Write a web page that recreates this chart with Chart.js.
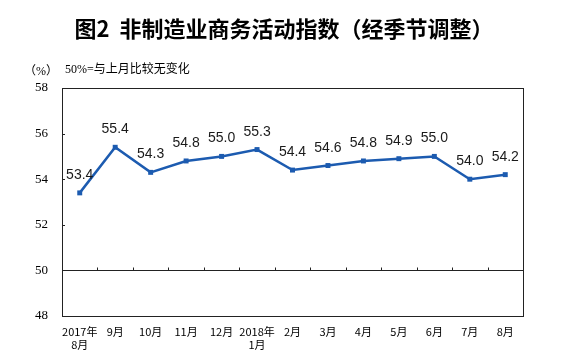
<!DOCTYPE html>
<html>
<head>
<meta charset="utf-8">
<script src="https://cdn.jsdelivr.net/npm/chart.js@4"></script>
<style>
  body { margin: 0; background: #fff; }
  #wrap { width: 565px; height: 362px; }
</style>
</head>
<body>
<div id="wrap"><canvas id="myLineChart" width="565" height="362"></canvas></div>
<script>
// data
const months = [['2017年', '8月'], '9月', '10月', '11月', '12月', ['2018年', '1月'], '2月', '3月', '4月', '5月', '6月', '7月', '8月'];
const indexValues = [53.4, 55.4, 54.3, 54.8, 55.0, 55.3, 54.4, 54.6, 54.8, 54.9, 55.0, 54.0, 54.2];
const yTicks = [48, 50, 52, 54, 56, 58];
const baseLine = 50;

const titleText = '图2  非制造业商务活动指数（经季节调整）';
const unitText = '（%）';
const noteText = '50%=与上月比较无变化';

const lineColor = '#1c5bb0';
const frameColor = '#222';

// title, frame, 50 line, inward ticks, value labels, notes
const decorPlugin = {
  id: 'decor',
  afterDatasetsDraw(chart) {
    const ctx = chart.ctx;
    const area = chart.chartArea;
    const xs = chart.scales.x;
    const ys = chart.scales.y;

    ctx.save();
    ctx.strokeStyle = frameColor;
    ctx.lineWidth = 1;
    ctx.strokeRect(Math.round(area.left) + 0.5, Math.round(area.top) + 0.5,
      Math.round(area.right - area.left), Math.round(area.bottom - area.top));

    // small ticks on the left edge
    ctx.beginPath();
    yTicks.forEach(function (v) {
      const y = Math.round(ys.getPixelForValue(v)) + 0.5;
      ctx.moveTo(area.left, y);
      ctx.lineTo(area.left + 3, y);
    });
    ctx.stroke();

    // 50 line with category boundary ticks
    const y50 = Math.round(ys.getPixelForValue(baseLine)) + 0.5;
    ctx.beginPath();
    ctx.moveTo(area.left, y50);
    ctx.lineTo(area.right, y50);
    for (let i = 1; i < months.length; i++) {
      const bx = Math.round((xs.getPixelForValue(i - 1) + xs.getPixelForValue(i)) / 2) + 0.5;
      ctx.moveTo(bx, y50);
      ctx.lineTo(bx, y50 - 3);
    }
    ctx.stroke();

    // value labels
    const meta = chart.getDatasetMeta(0);
    ctx.fillStyle = '#1a1a1a';
    ctx.font = '14px "Liberation Sans", Arial, sans-serif';
    ctx.textAlign = 'center';
    ctx.textBaseline = 'alphabetic';
    meta.data.forEach(function (pt, i) {
      ctx.fillText(indexValues[i].toFixed(1), pt.x, pt.y - 14);
    });

    // title
    ctx.fillStyle = '#000';
    ctx.font = 'bold 22px "Noto Sans CJK SC", sans-serif';
    ctx.textAlign = 'center';
    ctx.textBaseline = 'middle';
    ctx.fillText(titleText, 284, 29);

    // unit and note
    ctx.font = '12px "Liberation Serif", "Noto Sans CJK SC", serif';
    ctx.fillText(unitText, 41, 72);
    ctx.textAlign = 'left';
    ctx.fillText(noteText, 65, 70);
    ctx.restore();
  }
};

function setupLineChart() {
  var canvas = document.getElementById('myLineChart');
  var ctx = canvas.getContext('2d');

  return new Chart(ctx, {
    type: 'line',
    data: {
      labels: months,
      datasets: [{
        data: indexValues,
        borderColor: lineColor,
        backgroundColor: lineColor,
        borderWidth: 2.5,
        pointStyle: 'rect',
        pointRadius: 3.5,
        pointBorderWidth: 0,
        tension: 0
      }]
    },
    options: {
      responsive: false,
      animation: false,
      layout: { padding: { left: 0, right: 42, top: 88, bottom: 0 } },
      plugins: {
        legend: { display: false },
        tooltip: { enabled: false },
        title: { display: false }
      },
      scales: {
        x: {
          offset: true,
          grid: { display: false, drawTicks: false },
          border: { display: false },
          ticks: {
            color: '#000',
            padding: 9,
            maxRotation: 0,
            autoSkip: false,
            font: { family: '"Noto Sans CJK SC", sans-serif', size: 11, lineHeight: 1.2 }
          },
          afterFit: function (scale) { scale.height = 46; }
        },
        y: {
          min: 48,
          max: 58,
          afterBuildTicks: function (scale) {
            scale.ticks = yTicks.map(function (v) { return { value: v }; });
          },
          grid: { display: false, drawTicks: false },
          border: { display: false },
          ticks: {
            color: '#000',
            padding: 14,
            font: { family: '"Liberation Serif", serif', size: 13 }
          },
          afterFit: function (scale) { scale.width = 62; }
        }
      }
    },
    plugins: [decorPlugin]
  });
}

const myLineChart = setupLineChart();
</script>
</body>
</html>
